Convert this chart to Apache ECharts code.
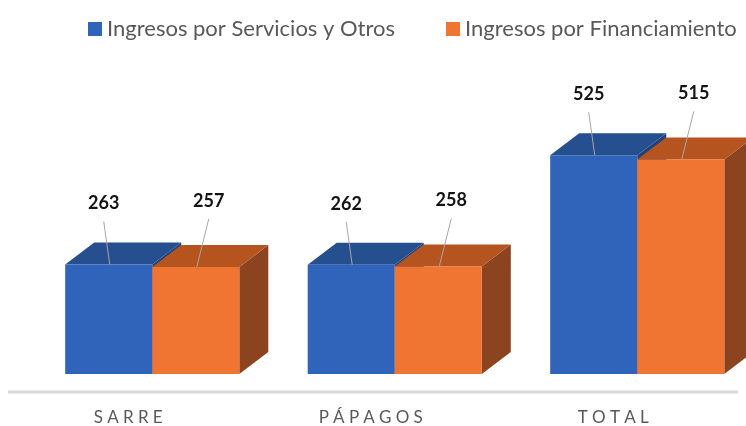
<!DOCTYPE html>
<html>
<head>
<meta charset="utf-8">
<script src="https://cdn.jsdelivr.net/npm/echarts@6/dist/echarts.min.js"></script>
<style>
  html, body { margin: 0; padding: 0; background: #fff; overflow: hidden; }
  #chart { width: 746px; height: 426px; }
</style>
</head>
<body>
<div id="chart"></div>
<script>
var categories = ['SARRE', 'PÁPAGOS', 'TOTAL'];
var servicios = [263, 262, 525];
var financiamiento = [257, 258, 515];
var seriesNames = ['Ingresos por Servicios y Otros', 'Ingresos por Financiamiento'];

// front / top / side colours for the fake 3d boxes
var blue = { front: '#3064ba', top: '#254f8f', side: '#1f447c' };
var orange = { front: '#f07533', top: '#b5541f', side: '#8c4420' };
var DX = 29, DY = -22;

function boxRender(colors, side, labelOff) {
  return function (params, api) {
    var i = api.value(0), v = api.value(1);
    var base = api.coord([i, 0]);
    var top = api.coord([i, v]);
    var w = api.size([1, 0])[0] * 0.359;
    var x0 = side < 0 ? base[0] - w : base[0];
    var x1 = x0 + w;
    var cx = (x0 + x1) / 2;
    var y0 = base[1], y1 = top[1];
    return {
      type: 'group',
      children: [
        { type: 'polygon', shape: { points: [[x1, y0], [x1 + DX, y0 + DY], [x1 + DX, y1 + DY], [x1, y1]] }, style: { fill: colors.side } },
        { type: 'polygon', shape: { points: [[x0, y1], [x0 + DX, y1 + DY], [x1 + DX, y1 + DY], [x1, y1]] }, style: { fill: colors.top } },
        { type: 'rect', shape: { x: x0, y: y1, width: w, height: y0 - y1 }, style: { fill: colors.front } },
        { type: 'line', shape: { x1: cx + labelOff[0], y1: y1 + labelOff[1] + 18, x2: cx + 1, y2: y1 }, style: { stroke: '#a6a6a6', lineWidth: 1 } },
        { type: 'text', x: cx + labelOff[0], y: y1 + labelOff[1], style: {
            text: String(v), fill: '#141414', font: 'bold 18px Lato, sans-serif',
            align: 'center', verticalAlign: 'middle' } }
      ]
    };
  };
}

function toPairs(arr) {
  return arr.map(function (v, i) { return [i, v]; });
}

var chart = echarts.init(document.getElementById('chart'));
chart.setOption({
  animation: false,
  legend: {
    top: 13,
    left: 83,
    itemGap: 51,
    itemWidth: 14,
    itemHeight: 14,
    icon: 'rect',
    data: seriesNames,
    textStyle: { color: '#595959', fontSize: 22, fontFamily: 'Lato' }
  },
  // the last box runs past the right edge, as in the original
  grid: { left: 31, width: 727.5, top: 124, bottom: 52, outerBoundsMode: 'none', containLabel: false },
  xAxis: {
    type: 'category',
    data: categories,
    axisLine: { show: false },
    axisTick: { show: false },
    axisLabel: {
      margin: 35,
      padding: [0, 48, 0, 0],
      color: '#595959',
      fontSize: 17,
      fontFamily: 'Lato',
      formatter: function (s) { return s.split('').join('\u2005'); }
    }
  },
  yAxis: { type: 'value', min: 0, max: 600, show: false, splitLine: { show: false } },
  graphic: [{
    type: 'line', z: -1,
    shape: { x1: 8, y1: 392, x2: 738, y2: 392 },
    style: { stroke: '#d9d9d9', lineWidth: 3 }
  }],
  series: [
    {
      name: seriesNames[0], type: 'custom', color: blue.front,
      renderItem: boxRender(blue, -1, [-5, -61]),
      encode: { x: 0, y: 1 },
      data: toPairs(servicios)
    },
    {
      name: seriesNames[1], type: 'custom', color: orange.front,
      renderItem: boxRender(orange, 1, [13, -66]),
      encode: { x: 0, y: 1 },
      data: toPairs(financiamiento)
    }
  ]
});
</script>
</body>
</html>
